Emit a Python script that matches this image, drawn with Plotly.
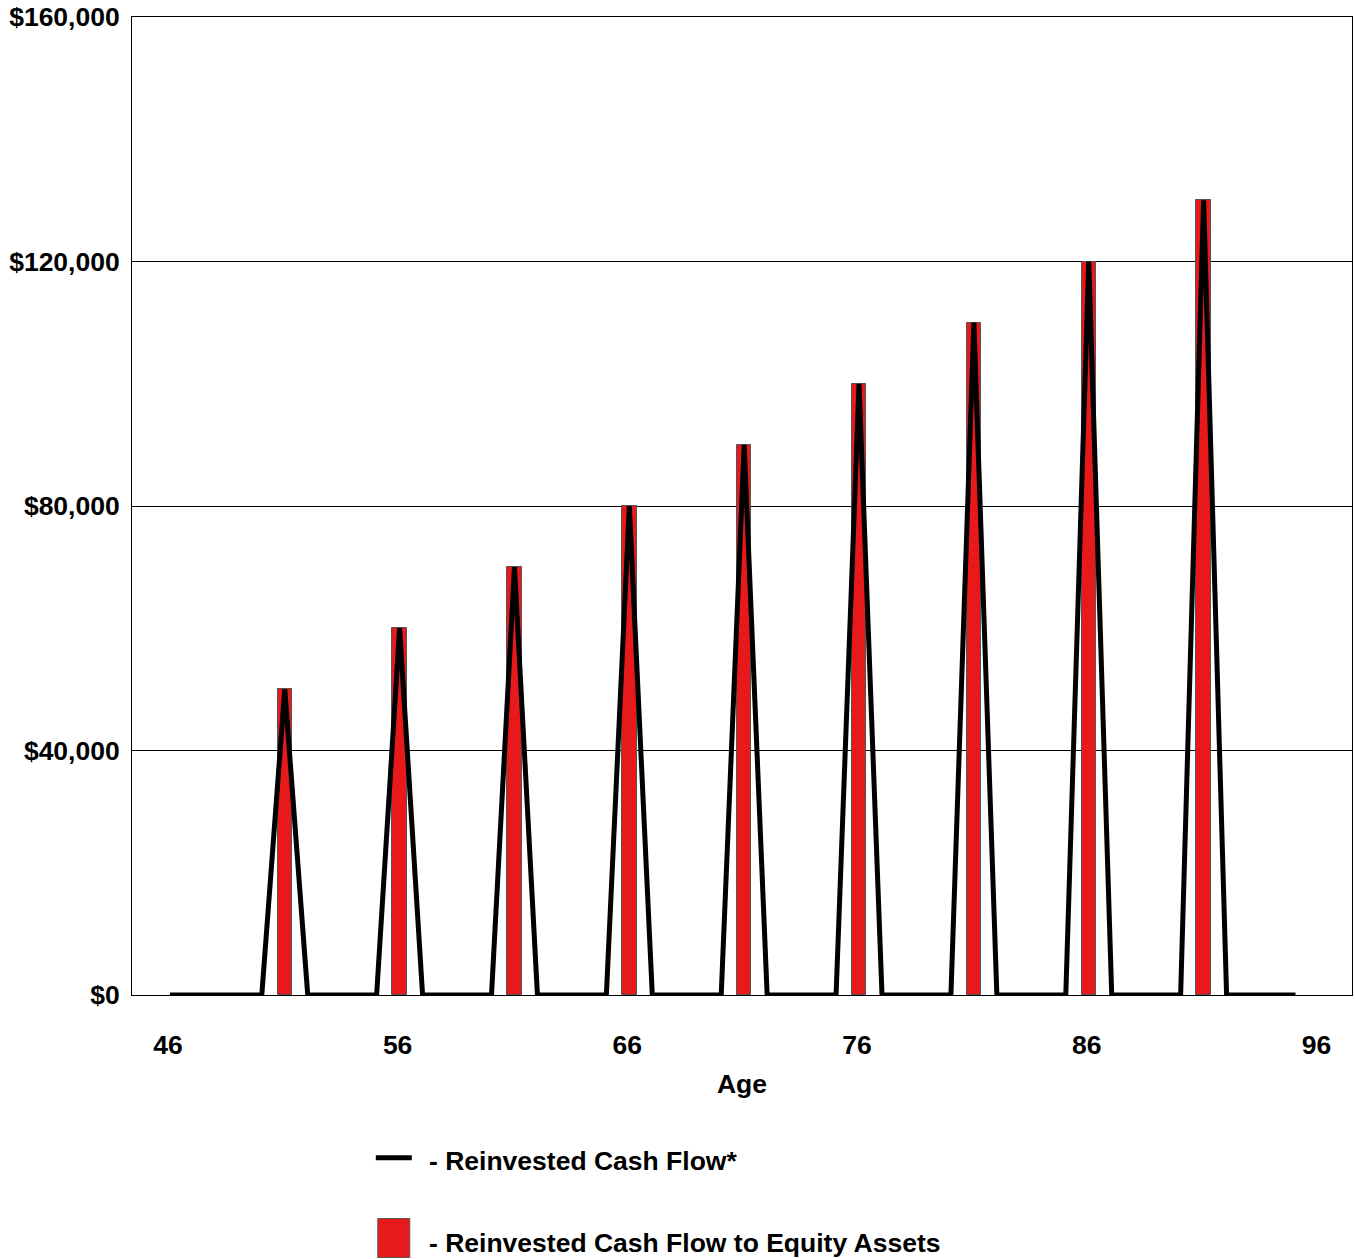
import plotly.graph_objects as go

# ---- data ----
ages = list(range(46, 96))
peak_ages = [51, 56, 61, 66, 71, 76, 81, 86, 91]
peak_values = [50000, 60000, 70000, 80000, 90000, 100000, 110000, 120000, 130000]
line_values = [peak_values[peak_ages.index(a)] if a in peak_ages else 0 for a in ages]
x_ticks = [46, 56, 66, 76, 86, 96]
y_ticks = [0, 40000, 80000, 120000, 160000]
y_tick_labels = ["$0", "$40,000", "$80,000", "$120,000", "$160,000"]
series_names = ["- Reinvested Cash Flow*", "- Reinvested Cash Flow to Equity Assets"]

W, H = 1355, 1259
L, R, T, B = 132, 2, 15, 264
PW, PH = W - L - R, H - T - B

def px(x):
    return (x - L) / PW

def py(y):
    return (H - B - y) / PH

FONT = "Liberation Sans, Arial, sans-serif"
FS = 26.5
RED = "#E8191A"

fig = go.Figure()
fig.add_trace(go.Bar(
    x=peak_ages, y=peak_values, width=0.63,
    marker=dict(color=RED, line=dict(color="#555555", width=1)),
    showlegend=False, name=series_names[1]))
fig.add_trace(go.Scatter(
    x=ages, y=line_values, mode="lines",
    line=dict(color="black", width=5),
    showlegend=False, name=series_names[0]))

fig.update_layout(
    width=W, height=H,
    margin=dict(l=L, r=R, t=T, b=B),
    plot_bgcolor="white", paper_bgcolor="white",
    font=dict(family=FONT, size=FS, color="black", weight="bold"),
    showlegend=False,
    bargap=0,
)
fig.update_xaxes(
    range=[44.35, 97.46], tickvals=x_ticks, ticktext=[str(v) for v in x_ticks],
    showgrid=False, zeroline=False, showline=True, linecolor="black", linewidth=1, mirror=True,
    ticks="", ticklabelstandoff=26, ticklabelshift=-2,
    tickfont=dict(family=FONT, size=FS, weight="bold"),
    title=dict(text="Age", font=dict(family=FONT, size=FS, weight="bold"), standoff=15),
)
fig.update_yaxes(
    range=[0, 160000], tickvals=y_ticks, ticktext=y_tick_labels,
    showgrid=True, gridcolor="black", gridwidth=1, zeroline=False,
    showline=True, linecolor="black", linewidth=1, mirror=True,
    ticks="", ticklabelstandoff=6,
    tickfont=dict(family=FONT, size=FS, weight="bold"),
)

# manual legend
fig.add_shape(type="line", xref="paper", yref="paper",
              x0=px(376), x1=px(412), y0=py(1158), y1=py(1158),
              line=dict(color="black", width=5))
fig.add_shape(type="rect", xref="paper", yref="paper",
              x0=px(378), x1=px(410), y0=py(1258), y1=py(1219),
              fillcolor=RED, line=dict(color="#555555", width=1))
fig.add_annotation(xref="paper", yref="paper", x=px(427), y=py(1161),
                   text=series_names[0], showarrow=False, xanchor="left", yanchor="middle",
                   font=dict(family=FONT, size=FS, weight="bold"))
fig.add_annotation(xref="paper", yref="paper", x=px(427), y=py(1244),
                   text=series_names[1], showarrow=False, xanchor="left", yanchor="middle",
                   font=dict(family=FONT, size=FS, weight="bold"))

fig.write_html("out.html", config={"displayModeBar": False},
               post_script="document.body.style.margin='0';document.body.style.overflow='hidden';")
